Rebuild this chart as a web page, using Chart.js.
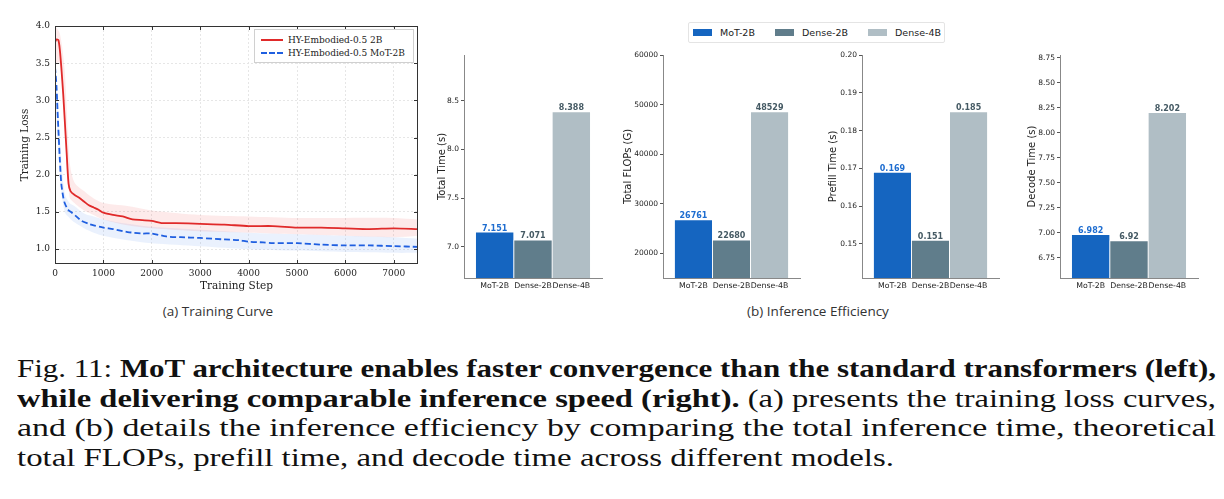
<!DOCTYPE html>
<html>
<head>
<meta charset="utf-8">
<title>Fig. 11</title>
<script src="https://cdn.jsdelivr.net/npm/chart.js@4.4.1/dist/chart.umd.min.js"></script>
<style>
  body { margin: 0; background: #fff; }
  #page { position: relative; width: 1224px; height: 499px; overflow: hidden; background: #fff; }
  .abs { position: absolute; }
  canvas { display: block; }
  .lossLegend { left: 254px; top: 29px; width: 158px; height: 32px; border: 1px solid #d0d0d0; background: #fff;
    font: 9px "DejaVu Serif", serif; color: #222; }
  .lossLegend .row { position: absolute; left: 0; height: 12px; line-height: 12px; }
  .lossLegend .ln { position: absolute; left: 6px; top: 5px; width: 22px; height: 0; }
  .lossLegend .tx { position: absolute; left: 33px; top: 0; white-space: nowrap; }
  .barLegend { left: 688px; top: 22px; width: 255px; height: 19px; border: 1px solid #e4e4e4; border-radius: 2px; background: #fff;
    font: 9.5px "DejaVu Sans", sans-serif; color: #222; }
  .barLegend .it { position: absolute; top: 0; height: 19px; line-height: 19px; white-space: nowrap; }
  .barLegend .sw { display: inline-block; width: 19px; height: 7px; vertical-align: middle; margin-right: 8px; position: relative; top: -1px; }
  .sub { top: 302px; font: 13.5px "Open Sans", sans-serif; color: #333; transform: translateX(-50%); white-space: nowrap; }
  .cap { left: 17px; top: 354px; width: 1199px; font: 25px "Liberation Serif", serif; line-height: 29.7px; color: #111; }
  .cap div { white-space: nowrap; height: 29.7px; }
  .cap span { display: inline-block; transform-origin: 0 0; }
</style>
</head>
<body>
<div id="page">
  <div class="abs" style="left:0;top:0"><canvas id="loss" width="430" height="300"></canvas></div>
  <div class="abs lossLegend">
    <div class="row" style="top:4px"><span class="ln" style="border-top:2px solid #e02a2a"></span><span class="tx">HY-Embodied-0.5 2B</span></div>
    <div class="row" style="top:17px"><span class="ln" style="border-top:2px dashed #1f5fe0"></span><span class="tx">HY-Embodied-0.5 MoT-2B</span></div>
  </div>

  <div class="abs barLegend">
    <div class="it" style="left:4px"><span class="sw" style="background:#1565c0"></span>MoT-2B</div>
    <div class="it" style="left:86px"><span class="sw" style="background:#607d8b"></span>Dense-2B</div>
    <div class="it" style="left:179px"><span class="sw" style="background:#b0bec5"></span>Dense-4B</div>
  </div>

  <div class="abs" style="left:432px;top:45px"><canvas id="time" width="176" height="251"></canvas></div>
  <div class="abs" style="left:618px;top:45px"><canvas id="flops" width="188" height="251"></canvas></div>
  <div class="abs" style="left:823px;top:45px"><canvas id="prefill" width="182" height="251"></canvas></div>
  <div class="abs" style="left:1022px;top:45px"><canvas id="decode" width="182" height="251"></canvas></div>

  <div class="abs sub" style="left:218px">(a) Training Curve</div>
  <div class="abs sub" style="left:818px">(b) Inference Efficiency</div>

  <div class="abs cap">
    <div><span data-w="1199">Fig. 11: <b>MoT architecture enables faster convergence than the standard transformers (left),</b></span></div>
    <div><span data-w="1199"><b>while delivering comparable inference speed (right).</b> (a) presents the training loss curves,</span></div>
    <div><span data-w="1199">and (b) details the inference efficiency by comparing the total inference time, theoretical</span></div>
    <div><span data-w="877">total FLOPs, prefill time, and decode time across different models.</span></div>
  </div>
</div>

<script>
// (a) training curve
const redSteps = [0, 30, 70, 100, 130, 170, 200, 240, 280, 320, 400, 500, 600, 700, 800, 900, 1000, 1200, 1400, 1600, 1800, 2000, 2200, 2500, 3000, 3500, 4000, 4500, 5000, 5500, 6000, 6500, 7000, 7500];
const redLoss = [3.78, 3.82, 3.81, 3.68, 3.45, 3.08, 2.75, 2.30, 1.88, 1.78, 1.73, 1.69, 1.64, 1.59, 1.56, 1.53, 1.49, 1.46, 1.44, 1.40, 1.39, 1.38, 1.35, 1.35, 1.34, 1.33, 1.31, 1.31, 1.29, 1.29, 1.28, 1.27, 1.28, 1.27];
const blueSteps = [0, 30, 60, 100, 130, 170, 200, 270, 350, 440, 550, 700, 800, 1000, 1200, 1500, 1800, 2000, 2300, 2600, 3000, 3500, 3800, 4000, 4300, 4500, 5000, 5500, 6000, 6500, 7000, 7500];
const blueLoss = [3.45, 3.20, 2.75, 2.20, 1.88, 1.70, 1.62, 1.53, 1.49, 1.44, 1.38, 1.34, 1.32, 1.29, 1.27, 1.23, 1.21, 1.21, 1.17, 1.16, 1.15, 1.13, 1.12, 1.10, 1.09, 1.08, 1.08, 1.06, 1.05, 1.05, 1.04, 1.03];
// faint raw-loss spread around each curve
const bandSteps = [0, 100, 200, 300, 400, 600, 800, 1000, 1500, 2000, 3000, 4000, 5000, 6000, 7000, 7500];
const redHi = [4.00, 3.90, 3.40, 2.20, 1.90, 1.78, 1.68, 1.62, 1.58, 1.52, 1.46, 1.44, 1.42, 1.42, 1.42, 1.40];
const redLo = [3.50, 3.50, 2.70, 1.70, 1.62, 1.52, 1.46, 1.40, 1.32, 1.28, 1.24, 1.22, 1.20, 1.18, 1.16, 1.18];
const blueHi = [3.60, 2.50, 1.75, 1.62, 1.58, 1.48, 1.44, 1.40, 1.34, 1.30, 1.26, 1.22, 1.20, 1.18, 1.16, 1.14];
const blueLo = [3.20, 2.00, 1.50, 1.42, 1.36, 1.28, 1.22, 1.18, 1.12, 1.08, 1.04, 1.00, 0.98, 0.96, 0.95, 0.95];
const lossTicks = [1.0, 1.5, 2.0, 2.5, 3.0, 3.5, 4.0];
const stepTicks = [0, 1000, 2000, 3000, 4000, 5000, 6000, 7000];

// (b) inference efficiency
const models = ["MoT-2B", "Dense-2B", "Dense-4B"];
const totalTime = [7.151, 7.071, 8.388];
const totalFlops = [26761, 22680, 48529];
const prefillTime = [0.169, 0.151, 0.185];
const decodeTime = [6.982, 6.92, 8.202];
const timeTicks = [7.0, 7.5, 8.0, 8.5];
const flopsTicks = [20000, 30000, 40000, 50000, 60000];
const prefillTicks = [0.15, 0.16, 0.17, 0.18, 0.19, 0.20];
const decodeTicks = [6.75, 7.00, 7.25, 7.50, 7.75, 8.00, 8.25, 8.50, 8.75];

const barColors = ["#1565c0", "#607d8b", "#b0bec5"];
const valueColors = ["#1e6dd0", "#455a64", "#455a64"];

const pts = (xs, ys) => xs.map((x, i) => ({ x: x, y: ys[i] }));

// box round the plot with inward ticks on every side
const frame = {
  id: "frame",
  afterDraw(chart) {
    const { ctx, chartArea: a, scales } = chart;
    ctx.save();
    ctx.strokeStyle = "#333";
    ctx.lineWidth = 1;
    ctx.strokeRect(a.left + 0.5, a.top + 0.5, a.right - a.left - 1, a.bottom - a.top - 1);
    ctx.beginPath();
    stepTicks.forEach(v => {
      const px = Math.round(scales.x.getPixelForValue(v)) + 0.5;
      ctx.moveTo(px, a.bottom); ctx.lineTo(px, a.bottom - 4);
      ctx.moveTo(px, a.top); ctx.lineTo(px, a.top + 4);
    });
    lossTicks.forEach(v => {
      const py = Math.round(scales.y.getPixelForValue(v)) + 0.5;
      ctx.moveTo(a.left, py); ctx.lineTo(a.left + 4, py);
      ctx.moveTo(a.right, py); ctx.lineTo(a.right - 4, py);
    });
    ctx.stroke();
    ctx.restore();
  }
};

const serif = "'DejaVu Serif', serif";

new Chart(document.getElementById("loss"), {
  type: "line",
  data: {
    datasets: [
      { data: pts(redSteps, redLoss), borderColor: "#e02a2a", borderWidth: 1.8, pointRadius: 0, tension: 0.25, fill: false },
      { data: pts(blueSteps, blueLoss), borderColor: "#1f5fe0", borderWidth: 1.8, borderDash: [6, 3], pointRadius: 0, tension: 0.25, fill: false },
      { data: pts(bandSteps, redHi), borderWidth: 0, pointRadius: 0, tension: 0.3, fill: "+1", backgroundColor: "rgba(240,90,90,0.13)" },
      { data: pts(bandSteps, redLo), borderWidth: 0, pointRadius: 0, tension: 0.3, fill: false },
      { data: pts(bandSteps, blueHi), borderWidth: 0, pointRadius: 0, tension: 0.3, fill: "+1", backgroundColor: "rgba(90,150,240,0.13)" },
      { data: pts(bandSteps, blueLo), borderWidth: 0, pointRadius: 0, tension: 0.3, fill: false }
    ]
  },
  options: {
    responsive: false,
    animation: false,
    layout: { padding: { left: 15, right: 12, top: 26, bottom: 3 } },
    plugins: { legend: { display: false }, tooltip: { enabled: false } },
    scales: {
      x: {
        type: "linear", min: 0, max: 7500,
        afterBuildTicks: s => { s.ticks = stepTicks.map(v => ({ value: v })); },
        afterFit: s => { s.height = 33; },
        ticks: { font: { family: serif, size: 9 }, color: "#222", padding: 4, maxRotation: 0, autoSkip: false,
                 callback: v => String(v) },
        grid: { color: "#e6e6e6", drawTicks: false },
        border: { display: false, dash: [2, 2] },
        title: { display: true, text: "Training Step", font: { family: serif, size: 10.5 }, color: "#222" }
      },
      y: {
        min: 0.8, max: 4.0,
        afterBuildTicks: s => { s.ticks = lossTicks.map(v => ({ value: v })); },
        afterFit: s => { s.width = 40; },
        ticks: { font: { family: serif, size: 9 }, color: "#222", padding: 5, callback: v => v.toFixed(1) },
        grid: { color: "#e6e6e6", drawTicks: false },
        border: { display: false, dash: [2, 2] },
        title: { display: true, text: "Training Loss", font: { family: serif, size: 10.5 }, color: "#222" }
      }
    }
  },
  plugins: [frame]
});

// numbers printed on top of each bar
const valueLabels = {
  id: "valueLabels",
  afterDatasetsDraw(chart) {
    const ctx = chart.ctx;
    const meta = chart.getDatasetMeta(0);
    const vals = chart.data.datasets[0].data;
    ctx.save();
    ctx.font = "bold 8px 'DejaVu Sans', sans-serif";
    ctx.textAlign = "center";
    ctx.textBaseline = "alphabetic";
    meta.data.forEach((bar, i) => {
      ctx.fillStyle = valueColors[i];
      ctx.fillText(String(vals[i].y), bar.x, bar.y - 1.5);
    });
    ctx.restore();
  }
};

const sans = "'DejaVu Sans', sans-serif";

function barChart(id, values, yMin, yMax, ticks, digits, label, axisWidth) {
  new Chart(document.getElementById(id), {
    type: "bar",
    data: {
      datasets: [{
        data: values.map((v, i) => ({ x: i, y: v })),
        backgroundColor: barColors,
        borderColor: "#ffffff",
        borderWidth: 0.8,
        barPercentage: 1,
        categoryPercentage: 1
      }]
    },
    options: {
      responsive: false,
      animation: false,
      layout: { padding: { left: 0, right: 6, top: 10, bottom: 0 } },
      plugins: { legend: { display: false }, tooltip: { enabled: false } },
      scales: {
        x: {
          type: "linear", min: -0.8, max: 2.8, offset: false,
          afterBuildTicks: s => { s.ticks = [0, 1, 2].map(v => ({ value: v })); },
          afterFit: s => { s.height = 18; },
          ticks: { font: { family: sans, size: 7.8 }, color: "#222", padding: 3, autoSkip: false, maxRotation: 0,
                   callback: v => models[v] },
          grid: { display: false, drawTicks: false },
          border: { display: true, color: "#888", width: 1 }
        },
        y: {
          min: yMin, max: yMax,
          afterBuildTicks: s => { s.ticks = ticks.map(v => ({ value: v })); },
          afterFit: s => { s.width = axisWidth; },
          ticks: { font: { family: sans, size: 7.5 }, color: "#222", padding: 2, callback: v => v.toFixed(digits) },
          grid: { drawOnChartArea: false, drawTicks: true, tickLength: 3, color: "#555" },
          border: { display: true, color: "#888", width: 1 },
          title: { display: true, text: label, font: { family: sans, size: 10 }, color: "#222" }
        }
      }
    },
    plugins: [valueLabels]
  });
}

barChart("time", totalTime, 6.68, 8.97, timeTicks, 1, "Total Time (s)", 32);
barChart("flops", totalFlops, 15000, 60000, flopsTicks, 0, "Total FLOPs (G)", 45);
barChart("prefill", prefillTime, 0.141, 0.2, prefillTicks, 2, "Prefill Time (s)", 39);
barChart("decode", decodeTime, 6.547, 8.777, decodeTicks, 2, "Decode Time (s)", 38);

// stretch each caption line to the width it has in the figure
document.querySelectorAll(".cap span").forEach(s => {
  const w = s.getBoundingClientRect().width;
  s.style.transform = "scaleX(" + (Number(s.dataset.w) / w) + ")";
});
</script>
</body>
</html>
